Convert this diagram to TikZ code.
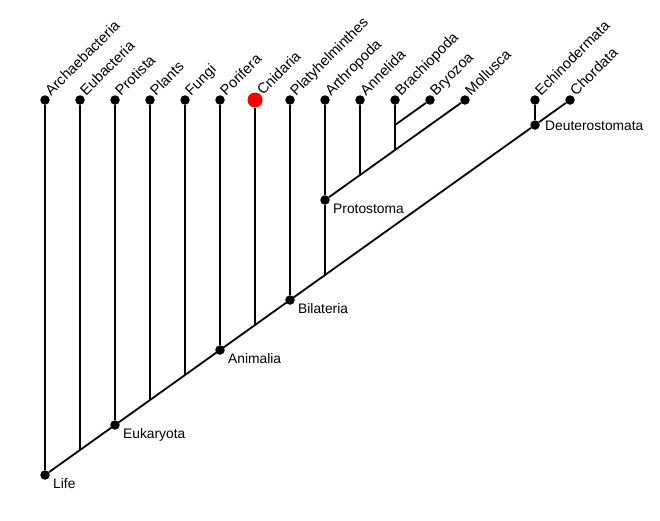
\documentclass[tikz,border=0pt]{standalone}
\usepackage{fontspec}
\setmainfont{Liberation Sans}
\begin{document}
\begin{tikzpicture}[x=1pt,y=-1pt,
  dot/.style={circle,fill=black,inner sep=0pt,minimum size=9.5pt},
  reddot/.style={circle,fill=red,inner sep=0pt,minimum size=15pt},
  br/.style={line width=1.8pt},
  tip/.style={anchor=base west,rotate=45,inner sep=0pt,font=\fontsize{14.6}{16}\selectfont},
  clade/.style={anchor=base west,inner sep=0pt,font=\fontsize{13.8}{15}\selectfont}]
\useasboundingbox (0,0) rectangle (660,520);
% tips
\node[dot] (archae) at (45,100) {};
\node[dot] (eubac) at (80,100) {};
\node[dot] (protista) at (115,100) {};
\node[dot] (plants) at (150,100) {};
\node[dot] (fungi) at (185,100) {};
\node[dot] (porifera) at (220,100) {};
\node[reddot] (cnidaria) at (255,100) {};
\node[dot] (platy) at (290,100) {};
\node[dot] (arthro) at (325,100) {};
\node[dot] (annelida) at (360,100) {};
\node[dot] (brachio) at (395,100) {};
\node[dot] (bryozoa) at (430,100) {};
\node[dot] (mollusca) at (465,100) {};
\node[dot] (echino) at (535,100) {};
\node[dot] (chordata) at (570,100) {};
% internal nodes
\node[dot] (life) at (45,475) {};
\node[dot] (eukaryota) at (115,425) {};
\node[dot] (animalia) at (220,350) {};
\node[dot] (bilateria) at (290,300) {};
\node[dot] (protostoma) at (325,200) {};
\node[dot] (deutero) at (535,125) {};
% junctions
\coordinate (j1) at (80,450);
\coordinate (j2) at (150,400);
\coordinate (j3) at (185,375);
\coordinate (j4) at (255,325);
\coordinate (j5) at (325,275);
\coordinate (j6) at (360,175);
\coordinate (j7) at (395,150);
\coordinate (j8) at (395,125);
% branches
\draw[br] (life) -- (deutero);
\draw[br] (deutero) -- (chordata);
\draw[br] (archae) -- (life);
\draw[br] (eubac) -- (j1);
\draw[br] (protista) -- (eukaryota);
\draw[br] (plants) -- (j2);
\draw[br] (fungi) -- (j3);
\draw[br] (porifera) -- (animalia);
\draw[br] (cnidaria) -- (j4);
\draw[br] (platy) -- (bilateria);
\draw[br] (protostoma) -- (j5);
\draw[br] (arthro) -- (protostoma);
\draw[br] (protostoma) -- (mollusca);
\draw[br] (annelida) -- (j6);
\draw[br] (brachio) -- (j7);
\draw[br] (j8) -- (bryozoa);
\draw[br] (echino) -- (deutero);
% tip labels
\node[tip] (larchae) at ([shift={(6,-3.5)}]archae.center) {Archaebacteria};
\node[tip] (leubac) at ([shift={(6,-3.5)}]eubac.center) {Eubacteria};
\node[tip] (lprotista) at ([shift={(6,-3.5)}]protista.center) {Protista};
\node[tip] (lplants) at ([shift={(6,-3.5)}]plants.center) {Plants};
\node[tip] (lfungi) at ([shift={(6,-3.5)}]fungi.center) {Fungi};
\node[tip] (lporifera) at ([shift={(6,-3.5)}]porifera.center) {Porifera};
\node[tip] (lcnidaria) at ([shift={(8,-4)}]cnidaria.center) {Cnidaria};
\node[tip] (lplaty) at ([shift={(6,-3.5)}]platy.center) {Platyhelminthes};
\node[tip] (larthro) at ([shift={(6,-3.5)}]arthro.center) {Arthropoda};
\node[tip] (lannelida) at ([shift={(6,-3.5)}]annelida.center) {Annelida};
\node[tip] (lbrachio) at ([shift={(6,-3.5)}]brachio.center) {Brachiopoda};
\node[tip] (lbryozoa) at ([shift={(6,-3.5)}]bryozoa.center) {Bryozoa};
\node[tip] (lmollusca) at ([shift={(6,-3.5)}]mollusca.center) {Mollusca};
\node[tip] (lechino) at ([shift={(6,-3.5)}]echino.center) {Echinodermata};
\node[tip] (lchordata) at ([shift={(6,-3.5)}]chordata.center) {Chordata};
% clade labels
\node[clade] (llife) at ([shift={(8,13.5)}]life.center) {Life};
\node[clade] (leuk) at ([shift={(8,13.5)}]eukaryota.center) {Eukaryota};
\node[clade] (lanim) at ([shift={(8,13.5)}]animalia.center) {Animalia};
\node[clade] (lbila) at ([shift={(8,13.5)}]bilateria.center) {Bilateria};
\node[clade] (lproto) at ([shift={(8,13.5)}]protostoma.center) {Protostoma};
\node[clade] (ldeut) at ([shift={(10,5)}]deutero.center) {Deuterostomata};
\end{tikzpicture}
\end{document}
